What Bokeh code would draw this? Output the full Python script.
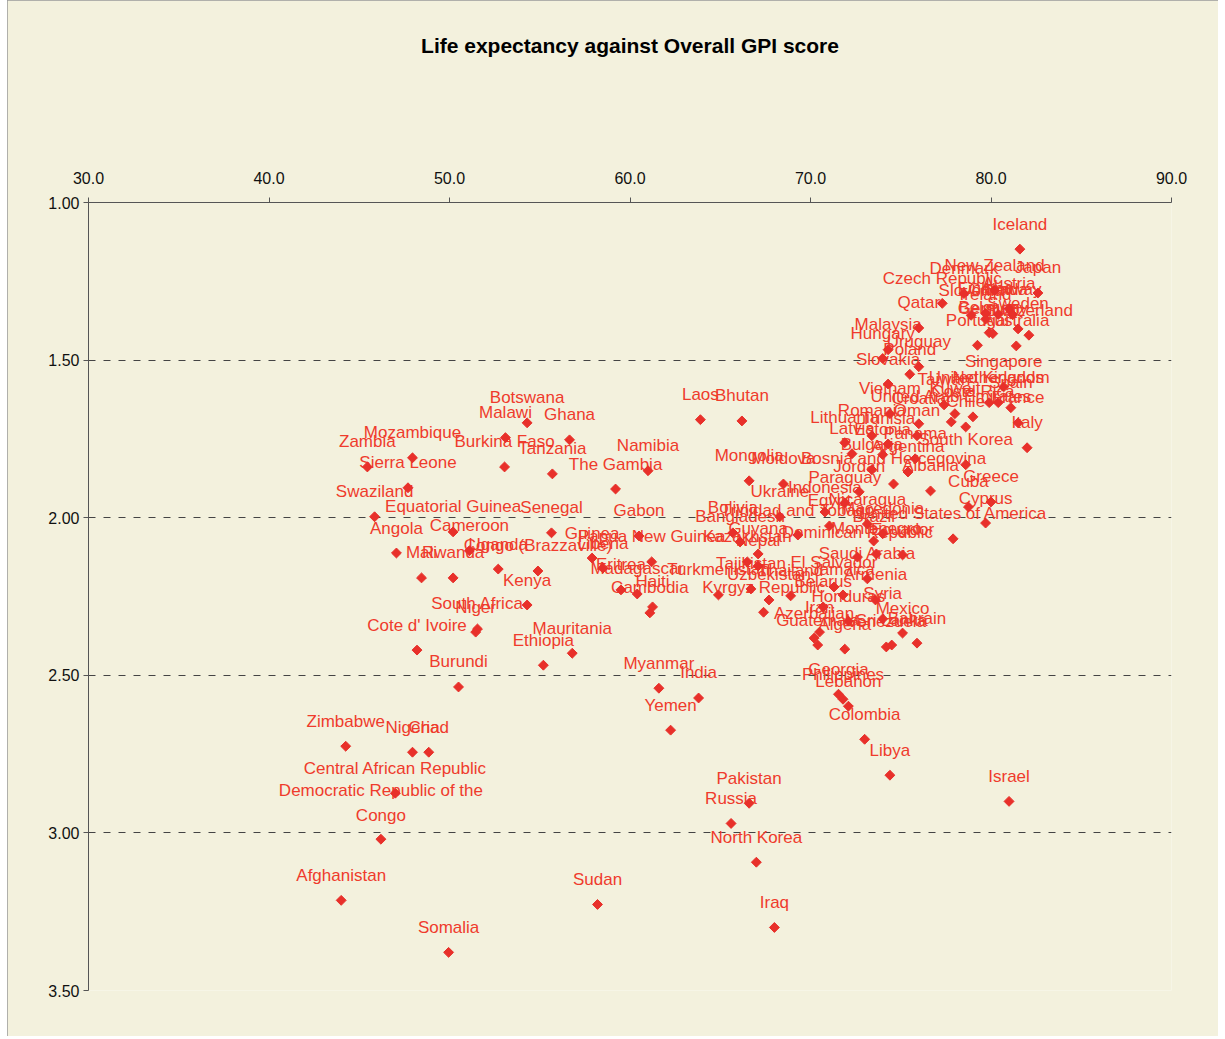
import math
from bokeh.plotting import figure
from bokeh.layouts import row
from bokeh.models import Range1d, FixedTicker, PrintfTickFormatter, ColumnDataSource, Spacer, Title
from bokeh.core.properties import value
from bokeh.embed import file_html
from bokeh.resources import INLINE

# ---------------- data ----------------
countries = [
    "Iceland", "New Zealand", "Japan", "Denmark", "Czech Republic", "Austria", "Finland", "Canada",
    "Norway", "Slovenia", "Ireland", "Qatar", "Sweden", "Belgium", "Germany", "Switzerland",
    "Portugal", "Australia", "Malaysia", "Hungary", "Uruguay", "Poland", "Slovakia", "Singapore",
    "Netherlands", "United Kingdom", "Taiwan", "Spain", "Vietnam", "Kuwait", "Costa Rica",
    "United Arab Emirates", "Croatia", "Chile", "France", "Laos", "Bhutan", "Botswana", "Romania",
    "Oman", "Lithuania", "Tunisia", "Malawi", "Ghana", "Italy", "Latvia", "Estonia", "Panama",
    "South Korea", "Mozambique", "Zambia", "Burkina Faso", "Tanzania", "Namibia", "Bulgaria",
    "Argentina", "Mongolia", "Moldova", "Bosnia and Hercegovina", "Sierra Leone", "The Gambia",
    "Jordan", "Albania", "Greece", "Cuba", "Paraguay", "Indonesia", "Ukraine", "Swaziland",
    "Cyprus", "Egypt", "Nicaragua", "Equatorial Guinea", "Senegal", "Gabon", "Bolivia",
    "Trinidad and Tobago", "Bangladesh", "United States of America", "Macedonia", "Brazil",
    "Angola", "Cameroon", "Guinea", "Liberia", "Papua New Guinea", "Guyana", "Kazakhstan", "Nepal",
    "Montenegro", "Ecuador", "Dominican Republic", "Uganda", "Congo (Brazzaville)", "Mali",
    "Rwanda", "Saudi Arabia", "Eritrea", "Tajikistan", "El Salvador", "Madagascar", "Turkmenistan",
    "Uzbekistan", "Thailand", "Jamaica", "Armenia", "Kenya", "Haiti", "Cambodia",
    "Kyrgyz Republic", "Belarus", "Honduras", "Syria", "Iran", "Azerbaijan", "Mexico", "Bahrain",
    "Guatemala", "Sri Lanka", "Venezuela", "Algeria", "South Africa", "Niger", "Cote d' Ivoire",
    "Mauritania", "Ethiopia", "Burundi", "Myanmar", "Georgia", "Philippines", "Lebanon", "India",
    "Yemen", "Colombia", "Zimbabwe", "Nigeria", "Chad", "Libya", "Central African Republic",
    "Israel", "Pakistan", "Democratic Republic of the Congo", "Russia", "North Korea",
    "Afghanistan", "Sudan", "Iraq", "Somalia",
]

life_expectancy = [
    81.6, 80.2, 82.6, 78.5, 77.3, 81.0, 79.7, 80.4,
    81.2, 78.9, 79.7, 76.0, 81.5, 79.9, 80.1, 82.1,
    79.25, 81.4, 74.3, 74.0, 76.0, 75.5, 74.3, 80.7,
    80.4, 79.9, 77.4, 81.1, 74.4, 78.0, 79.0,
    77.8, 76.0, 78.6, 81.5, 63.9, 66.2, 54.3, 73.4,
    75.9, 71.9, 74.3, 53.1, 56.65, 82.0, 72.3, 74.0, 75.8,
    78.6, 47.95, 45.45, 53.05, 55.7, 61.0, 73.4,
    75.4, 66.6, 68.5, 74.6, 47.7, 59.2,
    72.7, 76.65, 80.0, 78.75, 71.9, 70.8, 68.3, 45.85,
    79.7, 71.05, 73.15, 50.2, 55.65, 60.5, 65.7,
    69.3, 66.1, 77.9, 74.0, 73.5,
    47.06, 51.1, 57.9, 58.5, 61.2, 67.1, 66.5, 67.1,
    73.65, 75.1, 72.6, 52.7, 54.9, 48.45,
    50.2, 73.15, 59.5, 66.7, 71.3, 60.4, 64.9,
    67.7, 68.9, 71.8, 73.6, 54.3, 61.25, 61.1,
    67.4, 70.7, 72.1, 74.0, 70.5, 70.2, 75.1, 75.9,
    70.4, 74.5, 74.2, 71.9, 51.55, 51.45, 48.2,
    56.8, 55.2, 50.5, 61.6, 71.55, 71.8, 72.1, 63.8,
    62.25, 73.0, 44.25, 47.95, 48.85, 74.4, 47.0,
    81.0, 66.6, 46.2, 65.6, 67.0,
    44.0, 58.2, 68.0, 49.95,
]

gpi_score = [
    1.148, 1.279, 1.287, 1.289, 1.320, 1.337, 1.352, 1.355,
    1.356, 1.358, 1.370, 1.398, 1.401, 1.413, 1.416, 1.421,
    1.453, 1.455, 1.467, 1.495, 1.521, 1.545, 1.576, 1.585,
    1.635, 1.635, 1.642, 1.651, 1.670, 1.670, 1.680,
    1.696, 1.702, 1.712, 1.699, 1.689, 1.693, 1.699, 1.740,
    1.740, 1.762, 1.766, 1.746, 1.753, 1.778, 1.797, 1.800, 1.813,
    1.832, 1.810, 1.839, 1.839, 1.861, 1.851, 1.848,
    1.855, 1.883, 1.893, 1.893, 1.905, 1.909,
    1.918, 1.915, 1.950, 1.966, 1.953, 1.982, 1.997, 1.997,
    2.017, 2.026, 2.020, 2.045, 2.048, 2.058, 2.048,
    2.055, 2.077, 2.067, 2.051, 2.074,
    2.112, 2.105, 2.128, 2.160, 2.140, 2.115, 2.140, 2.153,
    2.115, 2.118, 2.125, 2.163, 2.169, 2.191,
    2.191, 2.194, 2.229, 2.226, 2.220, 2.242, 2.245,
    2.261, 2.248, 2.245, 2.261, 2.277, 2.283, 2.302,
    2.300, 2.283, 2.328, 2.321, 2.363, 2.382, 2.366, 2.398,
    2.404, 2.404, 2.410, 2.417, 2.353, 2.363, 2.420,
    2.430, 2.468, 2.537, 2.541, 2.560, 2.576, 2.598, 2.572,
    2.674, 2.703, 2.725, 2.744, 2.744, 2.817, 2.874,
    2.900, 2.906, 3.020, 2.970, 3.093,
    3.214, 3.227, 3.300, 3.379,
]

x_ticks = [30, 40, 50, 60, 70, 80, 90]
y_ticks = [1.0, 1.5, 2.0, 2.5, 3.0, 3.5]
title_text = "Life expectancy against Overall GPI score"

# ---------------- styling ----------------
BG = "#F3F1DD"
RED_TEXT = "#EF3B2C"
RED_MARK = "#E8302A"
FONT = "Liberation Sans"

labels = []
yoffs = []
for c in countries:
    if c == "Democratic Republic of the Congo":
        labels.append("Democratic Republic of the\nCongo")
        yoffs.append(-36)
    else:
        labels.append(c)
        yoffs.append(-25)

src = ColumnDataSource(dict(x=life_expectancy, y=gpi_score, label=labels, yoff=yoffs))

p = figure(width=1211, height=1036,
           x_range=Range1d(30, 90), y_range=Range1d(3.5, 1.0),
           x_axis_location="above",
           output_backend="svg", toolbar_location=None,
           min_border_left=81, min_border_right=47,
           min_border_top=202, min_border_bottom=46)

p.background_fill_color = BG
p.border_fill_color = BG
p.outline_line_color = None
p.styles = {"outline": "1px solid #9a9a9a", "outline-offset": "-1px"}

p.title.text = title_text
p.title.align = "center"
p.title.offset = 8
p.title.standoff = 10
p.title.text_font = FONT
p.title.text_font_size = "21px"
p.title.text_font_style = "bold"
p.title.text_color = "#000000"

# empty spacer panel between the top axis and the title
p.add_layout(Title(text=" ", text_font_size="10px", standoff=94), "above")

p.xaxis.ticker = FixedTicker(ticks=x_ticks)
p.yaxis.ticker = FixedTicker(ticks=y_ticks)
p.xaxis.formatter = PrintfTickFormatter(format="%.1f")
p.yaxis.formatter = PrintfTickFormatter(format="%.2f")
for ax in (p.xaxis, p.yaxis):
    ax.axis_line_color = "#555555"
    ax.major_tick_line_color = "#555555"
    ax.major_tick_out = 5
    ax.major_tick_in = 0
    ax.minor_tick_line_color = None
    ax.major_label_text_font = FONT
    ax.major_label_text_font_size = "16px"
    ax.major_label_text_color = "#111111"
p.xaxis.major_label_standoff = 14
p.yaxis.major_label_standoff = 4

p.xgrid.grid_line_color = None
p.ygrid.grid_line_color = "#444444"
p.ygrid.grid_line_dash = "7 8"
p.ygrid.grid_line_width = 1

p.text(x="x", y="y", text="label", source=src,
       text_align="center", text_baseline="middle", y_offset="yoff",
       text_font=value(FONT), text_font_size="17px", text_color=RED_TEXT,
       text_line_height=1.3)

p.scatter(x="x", y="y", source=src, marker="square", angle=math.pi / 4,
          size=7, fill_color=RED_MARK, line_color=RED_MARK)

layout = row(Spacer(width=7, height=1036), p, spacing=0)

open("out.html", "w").write(file_html(layout, INLINE))
